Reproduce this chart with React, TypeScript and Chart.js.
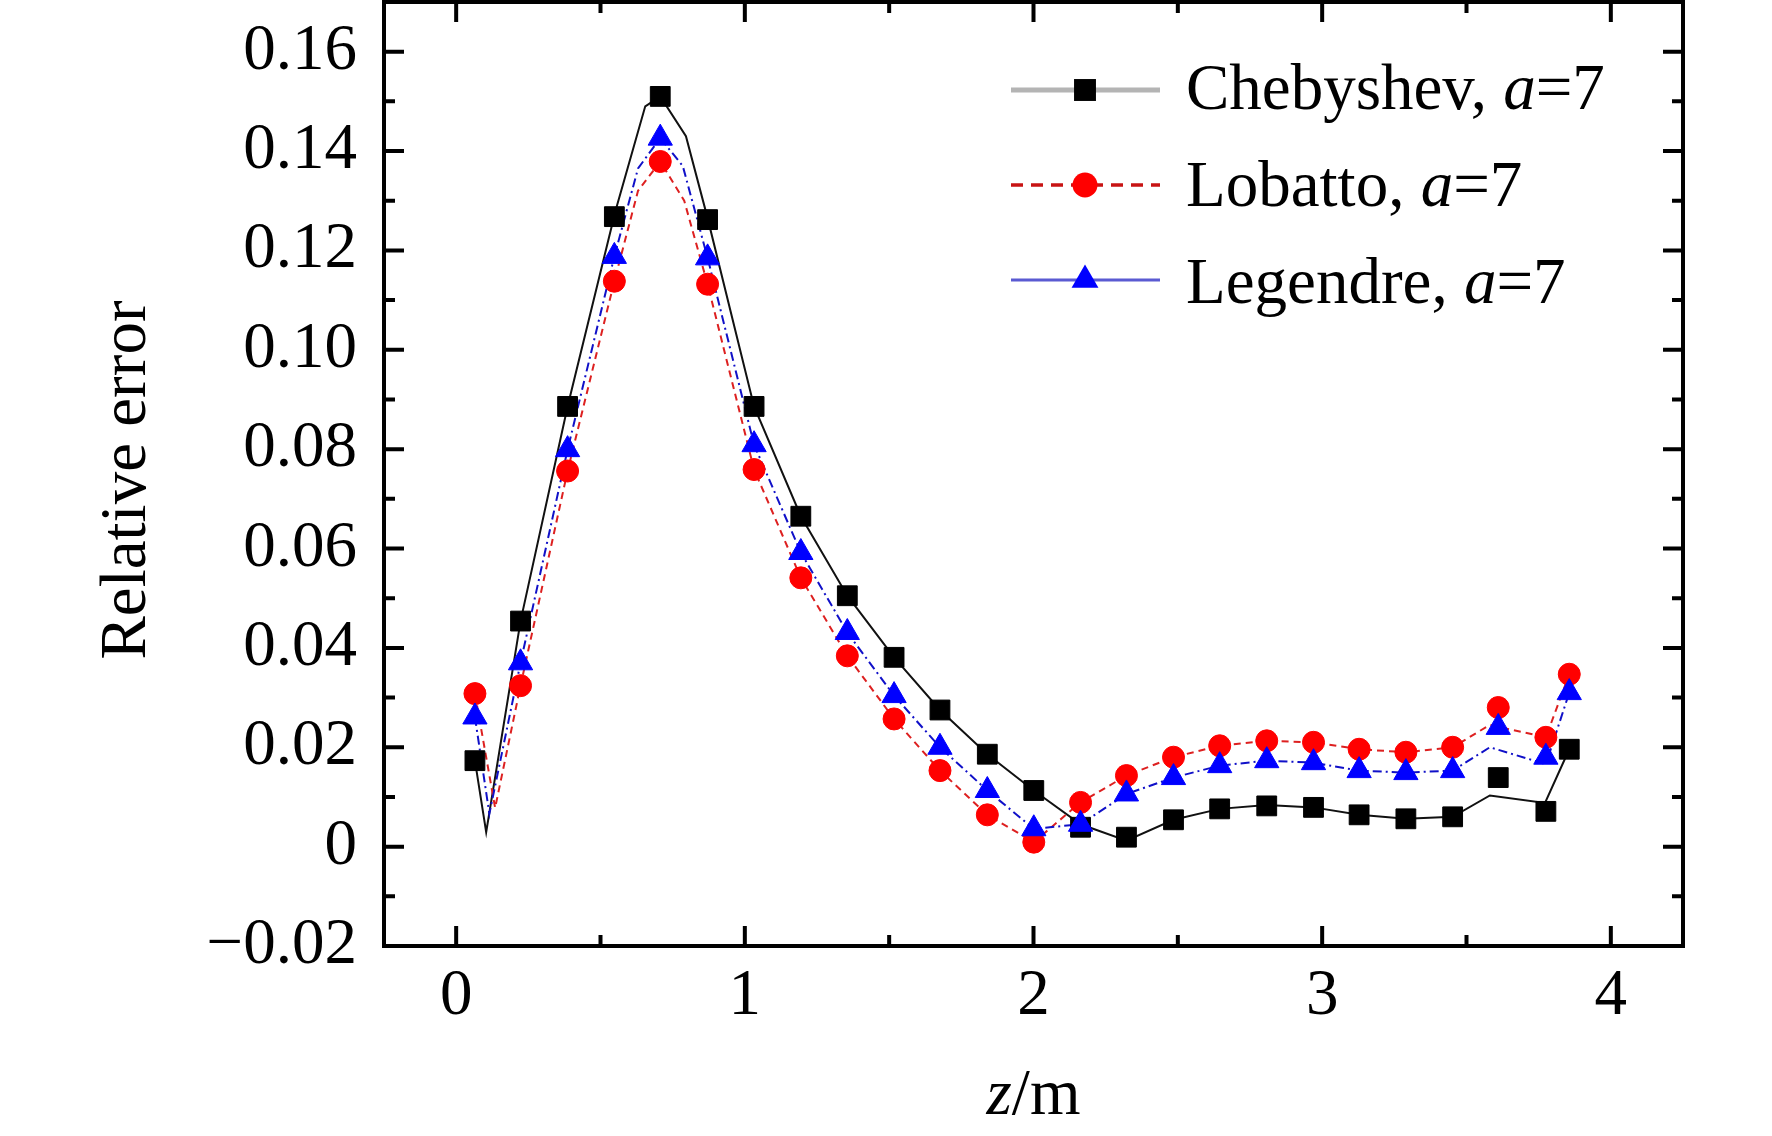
"use client";

import { useEffect, useRef } from "react";
import { Chart, registerables } from "chart.js";
import type { Plugin } from "chart.js";

Chart.register(...registerables);

const SERIF = "'Liberation Serif', 'Times New Roman', serif";
const FONT_SIZE = 65;

// z positions (m) of the plotted markers
const markerZ = [
  0.065, 0.223, 0.386, 0.548, 0.707, 0.871, 1.032, 1.194, 1.355, 1.517, 1.676,
  1.84, 2.001, 2.163, 2.322, 2.485, 2.645, 2.808, 2.97, 3.128, 3.29, 3.452,
  3.61, 3.775, 3.856,
];

const chebyshevMarkers = [
  0.0173, 0.0454, 0.0886, 0.1268, 0.151, 0.1262, 0.0886, 0.0665, 0.0505,
  0.0381, 0.0275, 0.0186, 0.0113, 0.0039, 0.0019, 0.0054, 0.0076, 0.0082,
  0.0079, 0.0064, 0.0056, 0.006, 0.0139, 0.0071, 0.0196,
];
const lobattoMarkers = [
  0.0308, 0.0324, 0.0756, 0.1138, 0.1379, 0.1132, 0.0759, 0.0541, 0.0384,
  0.0257, 0.0153, 0.0064, 0.0009, 0.0089, 0.0143, 0.018, 0.0203, 0.0213, 0.021,
  0.0196, 0.019, 0.02, 0.028, 0.022, 0.0347,
];
const legendreMarkers = [
  0.0261, 0.037, 0.0799, 0.1188, 0.1426, 0.1185, 0.0809, 0.0592, 0.0431,
  0.0304, 0.02, 0.0113, 0.0036, 0.0045, 0.0106, 0.0139, 0.0163, 0.0173, 0.0169,
  0.0153, 0.0149, 0.0153, 0.024, 0.018, 0.031,
];

// the connecting curves have a few vertices of their own
const chebyshevLineZ = [
  0.065, 0.104, 0.223, 0.386, 0.552, 0.655, 0.707, 0.796, 0.871, 1.032, 1.194,
  1.355, 1.517, 1.676, 1.84, 2.001, 2.163, 2.322, 2.485, 2.645, 2.808, 2.97,
  3.128, 3.29, 3.452, 3.581, 3.772, 3.856,
];
const chebyshevLine = [
  0.0173, 0.0029, 0.0454, 0.0886, 0.128, 0.149, 0.151, 0.143, 0.1265, 0.0886,
  0.0665, 0.0505, 0.0381, 0.0275, 0.0186, 0.0113, 0.0045, 0.0012, 0.0054,
  0.0076, 0.0084, 0.0079, 0.0064, 0.0056, 0.006, 0.0103, 0.0088, 0.0196,
];
const lobattoLineZ = [
  0.065, 0.135, 0.223, 0.386, 0.548, 0.63, 0.707, 0.79, 0.871, 1.032, 1.194,
  1.355, 1.517, 1.676, 1.84, 2.001, 2.163, 2.322, 2.485, 2.645, 2.808, 2.97,
  3.128, 3.29, 3.452, 3.581, 3.775, 3.856,
];
const lobattoLine = [
  0.0308, 0.0078, 0.0324, 0.0756, 0.1138, 0.132, 0.1379, 0.13, 0.1132, 0.0759,
  0.0541, 0.0384, 0.0257, 0.0153, 0.0064, 0.0009, 0.0089, 0.0143, 0.018,
  0.0203, 0.0213, 0.021, 0.0196, 0.019, 0.02, 0.0245, 0.022, 0.0347,
];
const legendreLineZ = [
  0.065, 0.115, 0.223, 0.386, 0.548, 0.63, 0.707, 0.785, 0.871, 1.032, 1.194,
  1.355, 1.517, 1.676, 1.84, 2.001, 2.163, 2.322, 2.485, 2.645, 2.808, 2.97,
  3.128, 3.29, 3.452, 3.581, 3.775, 3.856,
];
const legendreLine = [
  0.0261, 0.0066, 0.037, 0.0799, 0.1188, 0.1365, 0.1426, 0.137, 0.1185, 0.0809,
  0.0592, 0.0431, 0.0304, 0.02, 0.0113, 0.0036, 0.0045, 0.0106, 0.0139, 0.0163,
  0.0173, 0.0169, 0.0153, 0.0149, 0.0153, 0.02, 0.0166, 0.031,
];

const seriesNames = ["Chebyshev", "Lobatto", "Legendre"];
const seriesParam = "7";

const xTickValues = [0, 1, 2, 3, 4];
const xTickLabels = ["0", "1", "2", "3", "4"];
const xMinorTicks = [0.5, 1.5, 2.5, 3.5];
const yTickValues = [-0.02, 0, 0.02, 0.04, 0.06, 0.08, 0.1, 0.12, 0.14, 0.16];
const yTickLabels = [
  "\u22120.02", "0", "0.02", "0.04", "0.06", "0.08", "0.10", "0.12", "0.14", "0.16",
];
const yMinorTicks = [-0.01, 0.01, 0.03, 0.05, 0.07, 0.09, 0.11, 0.13, 0.15];

const styles = [
  { color: "#000000", line: "#111111", dash: [] as number[], marker: "rect", radius: 14,
    legendLine: "#b4b4b4", legendWidth: 5, legendDash: [] as number[] },
  { color: "#ff0000", line: "#dd2020", dash: [7, 5], marker: "circle", radius: 11,
    legendLine: "#c81414", legendWidth: 3.5, legendDash: [12, 8] },
  { color: "#0000ff", line: "#1010c8", dash: [9, 4, 2, 4], marker: "triangle", radius: 14,
    legendLine: "#5a5ad2", legendWidth: 3, legendDash: [] as number[] },
];

const toPoints = (xs: number[], ys: number[]) => xs.map((x, i) => ({ x, y: ys[i] }));

type Run = { text: string; italic?: boolean };

function drawRuns(ctx: CanvasRenderingContext2D, runs: Run[], x: number, y: number, center: boolean) {
  const fontOf = (r: Run) => `${r.italic ? "italic " : ""}${FONT_SIZE}px ${SERIF}`;
  let total = 0;
  for (const r of runs) {
    ctx.font = fontOf(r);
    total += ctx.measureText(r.text).width;
  }
  let cx = center ? x - total / 2 : x;
  ctx.textAlign = "left";
  ctx.textBaseline = "alphabetic";
  for (const r of runs) {
    ctx.font = fontOf(r);
    ctx.fillText(r.text, cx, y);
    cx += ctx.measureText(r.text).width;
  }
}

function drawMarker(ctx: CanvasRenderingContext2D, kind: string, x: number, y: number, r: number, color: string) {
  ctx.fillStyle = color;
  ctx.beginPath();
  if (kind === "rect") {
    const s = r * Math.SQRT1_2;
    ctx.rect(x - s, y - s, 2 * s, 2 * s);
  } else if (kind === "circle") {
    ctx.arc(x, y, r, 0, Math.PI * 2);
  } else {
    ctx.moveTo(x, y - r);
    ctx.lineTo(x + r * 0.866, y + r / 2);
    ctx.lineTo(x - r * 0.866, y + r / 2);
    ctx.closePath();
  }
  ctx.fill();
}

const framePlugin: Plugin<"scatter"> = {
  id: "frameTicksLegend",
  afterDraw(chart) {
    const { ctx, chartArea: a } = chart;
    const xs = chart.scales.x;
    const ys = chart.scales.y;
    ctx.save();

    // box and inward ticks on all four sides
    ctx.strokeStyle = "#000";
    ctx.lineWidth = 4;
    ctx.setLineDash([]);
    ctx.strokeRect(a.left, a.top, a.right - a.left, a.bottom - a.top);
    ctx.beginPath();
    const xt = (v: number, len: number) => {
      const p = xs.getPixelForValue(v);
      ctx.moveTo(p, a.bottom);
      ctx.lineTo(p, a.bottom - len);
      ctx.moveTo(p, a.top);
      ctx.lineTo(p, a.top + len);
    };
    const yt = (v: number, len: number) => {
      const p = ys.getPixelForValue(v);
      ctx.moveTo(a.left, p);
      ctx.lineTo(a.left + len, p);
      ctx.moveTo(a.right, p);
      ctx.lineTo(a.right - len, p);
    };
    xTickValues.forEach((v) => xt(v, 20));
    xMinorTicks.forEach((v) => xt(v, 11));
    yTickValues.forEach((v) => yt(v, 20));
    yMinorTicks.forEach((v) => yt(v, 11));
    ctx.stroke();

    // axis titles
    ctx.fillStyle = "#000";
    drawRuns(ctx, [{ text: "z", italic: true }, { text: "/m" }], (a.left + a.right) / 2, a.bottom + 168, true);
    ctx.save();
    ctx.translate(a.left - 239, (a.top + a.bottom) / 2 + 6);
    ctx.rotate(-Math.PI / 2);
    drawRuns(ctx, [{ text: "Relative error" }], 0, 0, true);
    ctx.restore();

    // legend
    seriesNames.forEach((name, i) => {
      const st = styles[i];
      const ly = 90 + 95 * i;
      ctx.strokeStyle = st.legendLine;
      ctx.lineWidth = st.legendWidth;
      ctx.setLineDash(st.legendDash);
      ctx.beginPath();
      ctx.moveTo(1011, ly);
      ctx.lineTo(1160, ly);
      ctx.stroke();
      ctx.setLineDash([]);
      drawMarker(ctx, st.marker, 1085, ly, st.radius + 1.5, st.color);
      ctx.fillStyle = "#000";
      drawRuns(
        ctx,
        [{ text: `${name}, ` }, { text: "a", italic: true }, { text: `=${seriesParam}` }],
        1186,
        109 + 97 * i,
        false,
      );
    });
    ctx.restore();
  },
};

export default function App() {
  const canvasRef = useRef<HTMLCanvasElement>(null);
  const chartRef = useRef<Chart<"scatter"> | null>(null);

  useEffect(() => {
    if (!canvasRef.current) return;
    if (chartRef.current) chartRef.current.destroy();

    const markerSets = [chebyshevMarkers, lobattoMarkers, legendreMarkers];
    const lineSets = [
      toPoints(chebyshevLineZ, chebyshevLine),
      toPoints(lobattoLineZ, lobattoLine),
      toPoints(legendreLineZ, legendreLine),
    ];

    const lineDatasets = lineSets.map((pts, i) => ({
      label: `${seriesNames[i]} curve`,
      data: pts,
      showLine: true,
      borderColor: styles[i].line,
      borderWidth: 2,
      borderDash: styles[i].dash,
      pointRadius: 0,
      tension: 0,
      order: 5 - i,
    }));
    const markerDatasets = markerSets.map((vals, i) => ({
      label: seriesNames[i],
      data: toPoints(markerZ, vals),
      showLine: false,
      pointStyle: styles[i].marker as "rect" | "circle" | "triangle",
      pointRadius: styles[i].radius,
      pointBackgroundColor: styles[i].color,
      pointBorderColor: styles[i].color,
      pointBorderWidth: 1,
      order: 2 - i,
    }));

    chartRef.current = new Chart(canvasRef.current, {
      type: "scatter",
      data: { datasets: [...lineDatasets, ...markerDatasets] },
      options: {
        responsive: true,
        maintainAspectRatio: false,
        animation: false,
        events: [],
        layout: { autoPadding: false, padding: { left: 0, right: 89, top: 2, bottom: 0 } },
        plugins: { legend: { display: false }, tooltip: { enabled: false } },
        scales: {
          x: {
            type: "linear",
            min: -0.25,
            max: 4.25,
            grid: { display: false, drawTicks: false },
            border: { display: false },
            afterBuildTicks: (scale) => {
              scale.ticks = xTickValues.map((value) => ({ value }));
            },
            afterFit: (scale) => {
              scale.height = 190;
              scale.paddingLeft = 0;
              scale.paddingRight = 0;
            },
            ticks: {
              padding: 12,
              color: "#000",
              font: { family: SERIF, size: FONT_SIZE },
              maxRotation: 0,
              callback: (_v, i) => xTickLabels[i],
            },
          },
          y: {
            type: "linear",
            min: -0.02,
            max: 0.17,
            grid: { display: false, drawTicks: false },
            border: { display: false },
            afterBuildTicks: (scale) => {
              scale.ticks = yTickValues.map((value) => ({ value }));
            },
            afterFit: (scale) => {
              scale.width = 384;
              scale.paddingTop = 0;
              scale.paddingBottom = 0;
            },
            ticks: {
              padding: 27,
              color: "#000",
              font: { family: SERIF, size: FONT_SIZE },
              callback: (_v, i) => yTickLabels[i],
            },
          },
        },
      },
      plugins: [framePlugin],
    });

    return () => {
      if (chartRef.current) {
        chartRef.current.destroy();
        chartRef.current = null;
      }
    };
  }, []);

  return (
    <div style={{ position: "fixed", left: 0, top: 0, width: 1772, height: 1136, background: "#fff" }}>
      <canvas ref={canvasRef} />
    </div>
  );
}
